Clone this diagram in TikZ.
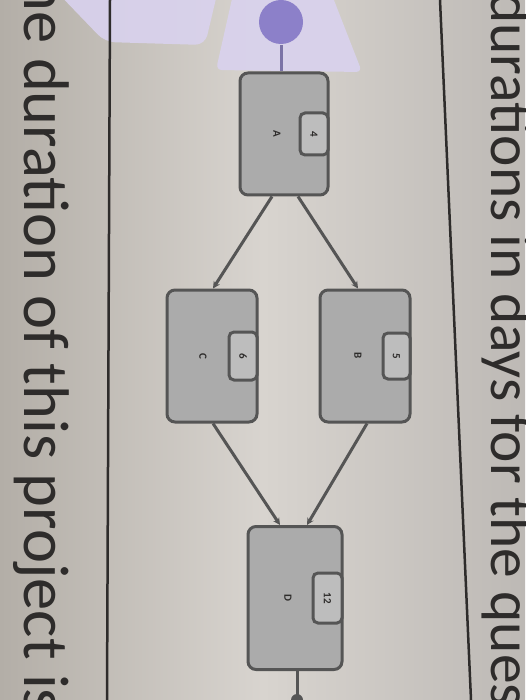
\documentclass[tikz,border=0pt]{standalone}
\usepackage{fontspec}
\setmainfont{Carlito}
\usetikzlibrary{positioning, arrows.meta, shapes.geometric}

\definecolor{paperL}{HTML}{B3AEA7}
\definecolor{paperM}{HTML}{D8D4CF}
\definecolor{paperR}{HTML}{BDB9B5}
\definecolor{ink}{HTML}{2E2C2B}
\definecolor{boxline}{HTML}{555555}
\definecolor{boxfill}{HTML}{ABABAB}
\definecolor{tabfill}{HTML}{BDBDBD}
\definecolor{glare}{HTML}{D9D2EE}
\definecolor{bulb}{HTML}{8C80C9}

\begin{document}
\begin{tikzpicture}[x=1pt, y=-1pt, line width=3pt,
  task/.style={draw=boxline, fill=boxfill, rounded corners=8pt, inner sep=0pt},
  tab/.style={draw=boxline, fill=tabfill, rounded corners=5pt, inner sep=0pt, anchor=east},
  tasklabel/.style={text=ink, font=\bfseries\fontsize{11}{12}\selectfont, rotate=-90},
  flow/.style={draw=boxline, -{Stealth[length=7pt, width=7pt]}},
  pagetext/.style={text=ink, rotate=-90, anchor=base west, inner sep=0pt}]

  % photo background and glare
  \shade[left color=paperL, right color=paperR, middle color=paperM] (0,0) rectangle (525,700);
  \useasboundingbox (0,0) rectangle (525,700);
  \fill[glare, opacity=0.9, rounded corners=10pt] (55,-10) -- (218,-10) -- (205,45) -- (105,42) -- cycle;
  \fill[glare, opacity=0.9, rounded corners=6pt] (234,-10) -- (330,-10) -- (362,72) -- (216,70) -- cycle;

  % table rules
  \draw[ink, line width=2.5pt] (110,0) -- (107,700);
  \draw[ink, line width=2.5pt] (440,0) -- (471,700);

  % page text
  \node[pagetext, font=\fontsize{64.5}{68}\selectfont] (question) at (24,-24) {he duration of this project is};
  \node[pagetext, font=\fontsize{59.5}{62}\selectfont] (intro) at (491,-9) {durations in days for the ques};

  % tasks
  \node (start) [circle, fill=bulb, minimum size=44pt, inner sep=0pt] at (281,22) {};
  \node (A) [task, minimum width=88pt, minimum height=122pt] at (284,134) {};
  \node (C) [task, minimum width=90pt, minimum height=132pt] at (212,356) {};
  \node (B) [task, minimum width=90pt, minimum height=132pt] at (365,356) {};
  \node (D) [task, minimum width=94pt, minimum height=143pt] at (295,598) {};

  \node (Atab) [tab, minimum width=28pt, minimum height=42pt] at (A.east) {};
  \node (Ctab) [tab, minimum width=28pt, minimum height=48pt] at (C.east) {};
  \node (Btab) [tab, minimum width=27pt, minimum height=46pt] at (B.east) {};
  \node (Dtab) [tab, minimum width=29pt, minimum height=50pt] at (D.east) {};

  \node[tasklabel] (Aname) at ([xshift=-7pt]A.center) {A};
  \node[tasklabel] (Cname) at ([xshift=-9pt]C.center) {C};
  \node[tasklabel] (Bname) at ([xshift=-7pt]B.center) {B};
  \node[tasklabel] (Dname) at ([xshift=-7pt]D.center) {D};
  \node[tasklabel] at (Atab.center) {4};
  \node[tasklabel] at (Ctab.center) {6};
  \node[tasklabel] at (Btab.center) {5};
  \node[tasklabel] at (Dtab.center) {12};

  % connectors
  \coordinate (finish) at (297,700);
  \draw[bulb!70!boxline] (start) -- (A.north -| start);
  \draw[flow] ([xshift=-12pt]A.south) -- ([xshift=1pt]C.north);
  \draw[flow] ([xshift=14pt]A.south) -- ([xshift=-7pt]B.north);
  \draw[flow] ([xshift=1pt]C.south) -- ([xshift=-15pt]D.north);
  \draw[flow] ([xshift=2pt]B.south) -- ([xshift=12pt]D.north);
  \draw[boxline] (D.south -| finish) -- (finish);
  \fill[boxline] (finish) circle (6pt);
\end{tikzpicture}
\end{document}
